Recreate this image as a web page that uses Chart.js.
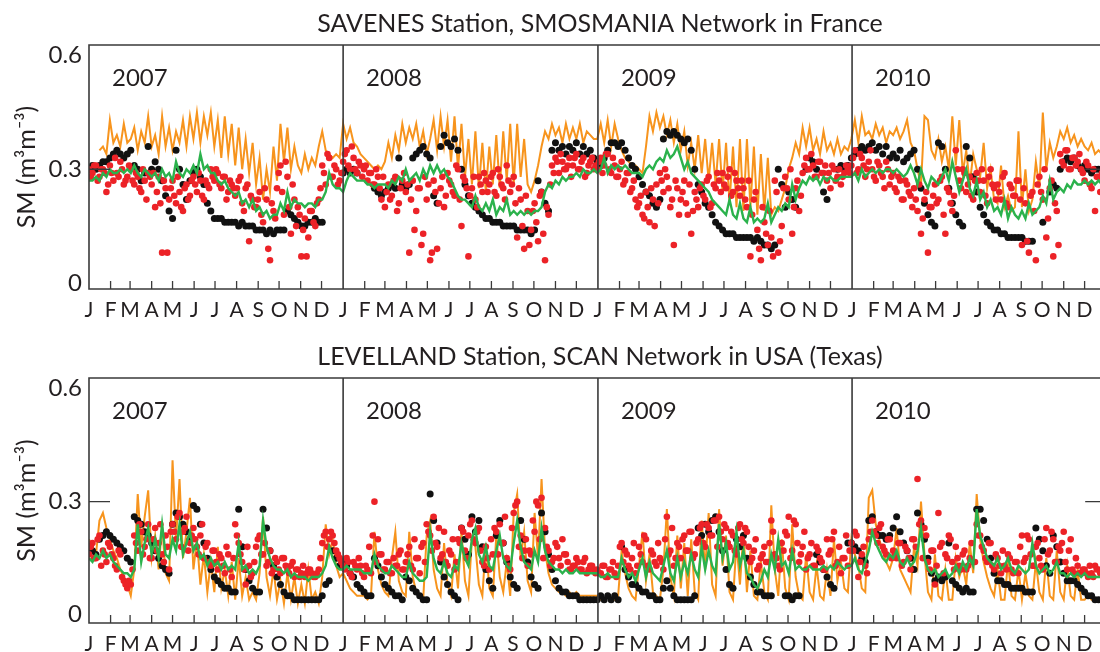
<!DOCTYPE html>
<html><head><meta charset="utf-8">
<script src="https://cdn.jsdelivr.net/npm/chart.js@4.4.0/dist/chart.umd.min.js"></script>
<style>
html,body{margin:0;padding:0;background:#fff;overflow:hidden;width:1100px;height:652px}
#wrap{position:relative;width:1100px;height:652px;overflow:hidden}
canvas{position:absolute;left:0}
</style></head><body>
<div id="wrap">
<canvas id="c1" width="1200" height="326" style="top:0"></canvas>
<canvas id="c2" width="1200" height="326" style="top:326px"></canvas>
</div>
<script>
const YEARS = [2007, 2008, 2009, 2010];
const MONTH_LABELS = ['J','F','M','A','M','J','J','A','S','O','N','D'];
const TICK_VALUES = [0, 0.3, 0.6];
const STEP_DAYS = 5;
const TITLES = ['SAVENES Station, SMOSMANIA Network in France', 'LEVELLAND Station, SCAN Network in USA (Texas)'];
const Y_TITLE = 'SM (m³m⁻³)';

// ---------- SAVENES (top) ----------
const topOrange = [
null,null,null,0.35,0.36,0.34, 0.43,0.37,0.39,0.36,0.42,0.37, 0.38,0.41,0.35,0.40,0.37,0.44, 0.36,0.39,0.34,0.44,0.36,0.41, 0.35,0.40,0.37,0.43,0.36,0.44, 0.38,0.45,0.37,0.44,0.39,0.45, 0.36,0.43,0.33,0.44,0.34,0.42, 0.31,0.41,0.30,0.38,0.29,0.37, 0.26,0.33,0.22,0.30,0.24,0.36, 0.27,0.42,0.32,0.41,0.30,0.36, 0.31,0.29,0.34,0.30,0.33,0.31, 0.36,0.40,0.35,0.34,0.33,0.34,0.33,
0.42,0.38,0.41,0.37,0.36,0.34, 0.33,0.32,0.31,0.30,0.31,0.30, 0.32,0.37,0.33,0.39,0.35,0.42, 0.37,0.41,0.38,0.42,0.36,0.40, 0.34,0.38,0.43,0.35,0.44,0.36, 0.43,0.32,0.44,0.30,0.42,0.28, 0.38,0.26,0.40,0.25,0.37,0.24, 0.36,0.26,0.39,0.25,0.40,0.27, 0.42,0.26,0.42,0.28,0.38,0.26, 0.24,0.27,0.31,0.36,0.40,0.38, 0.42,0.39,0.41,0.37,0.42,0.38, 0.41,0.38,0.42,0.37,0.40,0.39,0.38,
0.38,0.42,0.37,0.43,0.36,0.42, 0.38,0.35,0.33,0.32,0.31,0.31, 0.30,0.29,0.36,0.44,0.40,0.45, 0.41,0.44,0.39,0.43,0.37,0.42, 0.35,0.40,0.31,0.37,0.30,0.39, 0.29,0.38,0.27,0.37,0.26,0.38, 0.24,0.37,0.21,0.36,0.20,0.38, 0.19,0.38,0.20,0.36,0.18,0.34, 0.19,0.33,0.18,0.20,0.19,0.22, 0.25,0.30,0.33,0.37,0.34,0.41, 0.36,0.41,0.35,0.38,0.34,0.40, 0.35,0.37,0.34,0.38,0.34,0.36,0.35,
0.38,0.43,0.37,0.44,0.39,0.40, 0.38,0.42,0.39,0.41,0.37,0.40, 0.39,0.41,0.38,0.40,0.43,0.37, 0.35,0.30,0.26,0.44,0.43,0.35, 0.33,0.38,0.32,0.36,0.30,0.44, 0.31,0.43,0.29,0.35,0.26,0.34, 0.30,0.28,0.37,0.25,0.30,0.22, 0.21,0.31,0.20,0.23,0.19,0.20, 0.40,0.20,0.30,0.19,0.22,0.32, 0.25,0.45,0.30,0.37,0.33,0.36, 0.40,0.38,0.41,0.37,0.39,0.36, 0.38,0.36,0.35,0.37,0.34,0.35,0.34
];
const topGreen = [
0.27,0.27,0.28,0.27,0.29,0.28, 0.30,0.29,0.29,0.30,0.29,0.30, 0.29,0.31,0.29,0.28,0.30,0.29, 0.28,0.29,0.27,0.30,0.28,0.29, 0.27,0.32,0.29,0.28,0.30,0.29, 0.31,0.29,0.34,0.30,0.31,0.29, 0.29,0.27,0.26,0.27,0.25,0.24, 0.23,0.24,0.21,0.22,0.20,0.22, 0.19,0.20,0.18,0.19,0.17,0.18, 0.18,0.21,0.19,0.24,0.20,0.22, 0.21,0.21,0.20,0.21,0.21,0.20, 0.22,0.22,0.24,0.29,0.26,0.25,0.25,
0.24,0.27,0.29,0.28,0.27,0.27, 0.27,0.26,0.26,0.25,0.26,0.26, 0.26,0.25,0.27,0.26,0.28,0.27, 0.30,0.27,0.28,0.29,0.27,0.30, 0.28,0.31,0.29,0.31,0.29,0.30, 0.28,0.27,0.25,0.23,0.22,0.22, 0.21,0.20,0.23,0.20,0.19,0.21, 0.19,0.22,0.18,0.20,0.19,0.22, 0.18,0.19,0.18,0.19,0.18,0.19, 0.18,0.19,0.19,0.20,0.24,0.26, 0.25,0.27,0.26,0.28,0.27,0.28, 0.28,0.29,0.28,0.30,0.29,0.29,0.30,
0.29,0.30,0.33,0.29,0.31,0.30, 0.31,0.30,0.31,0.30,0.29,0.29, 0.29,0.28,0.30,0.31,0.30,0.32, 0.33,0.32,0.35,0.33,0.34,0.36, 0.33,0.30,0.32,0.29,0.28,0.27, 0.26,0.25,0.24,0.22,0.21,0.20, 0.19,0.18,0.22,0.18,0.17,0.21, 0.17,0.16,0.20,0.16,0.17,0.16, 0.17,0.21,0.16,0.18,0.20,0.19, 0.21,0.20,0.26,0.22,0.25,0.27, 0.26,0.28,0.27,0.28,0.26,0.28, 0.27,0.28,0.27,0.27,0.28,0.28,0.28,
0.28,0.29,0.27,0.30,0.28,0.29, 0.30,0.29,0.30,0.29,0.30,0.30, 0.29,0.30,0.29,0.28,0.29,0.31, 0.29,0.26,0.30,0.27,0.25,0.28, 0.27,0.26,0.28,0.30,0.27,0.32, 0.28,0.24,0.27,0.30,0.25,0.23, 0.27,0.22,0.24,0.20,0.22,0.19, 0.20,0.18,0.22,0.17,0.20,0.18, 0.17,0.19,0.17,0.21,0.18,0.19, 0.20,0.23,0.21,0.27,0.22,0.24, 0.25,0.24,0.26,0.25,0.27,0.26, 0.26,0.27,0.26,0.27,0.26,0.27,0.26
];
const topBlack = [
0.30,0.31,0.30,0.31,0.32,0.32,0.33,0.34,0.35,0.34,0.33,0.34, 0.35,0.31,0.30,0.27,0.29,0.36, 0.30,0.32,0.30,0.27,0.23,0.19, 0.17,0.35,0.30,0.26,0.22,0.27, 0.29,0.30,0.28,0.26,0.21,0.19, 0.17,0.17,0.17,0.16,0.16,0.16, 0.16,0.15,0.16,0.15,0.15,0.15, 0.14,0.14,0.14,0.13,0.14,0.13, 0.14,0.14,0.14,0.19,0.18,0.17, 0.16,0.15,0.15,0.16,0.16,0.17, 0.16,0.16,null,null,null,null,null,
0.29,0.30,0.29,0.30,0.29,null,null,null,null, 0.25,0.24,0.23,0.24,0.25,0.26,0.25,0.33,0.26, 0.25,0.26,0.33,0.34,0.35,0.36,0.34,0.33,0.23, 0.21,0.36,0.39,0.37,0.36,0.38,0.35,0.30,0.26, 0.23,0.21,0.20,0.19,0.18,0.17,0.17,0.16,0.16, 0.16,0.15,0.15,0.15,0.15,0.14,0.14,0.14,0.14, 0.13,0.14,0.27,0.24,0.21,0.19,0.35,0.37,0.35, 0.36,0.34,0.36,0.35,0.37,0.34,0.36,0.34,0.35,0.33,
0.32,0.31,0.33,0.35,0.37,0.37,0.36,0.37,0.35, 0.33,0.31,0.30,0.28,0.26,0.24,0.23,0.21,0.20, 0.22,0.38,0.40,0.39,0.40,0.39,0.38,0.37,0.38, 0.35,0.30,0.26,0.24,0.21,0.20,0.18,0.16,0.15, 0.14,0.13,0.13,0.13,0.12,0.12,0.12,0.12,0.12, 0.11,0.12,0.11,0.10,0.10,0.09,0.10,0.30,0.26, 0.20,0.24,0.22,0.20,null,null,0.30,0.33,0.32, 0.30,null,0.24,0.22,null,null,0.30,0.31,0.30,0.31,
0.33,0.34,0.35,0.36,0.35,0.36,0.37,0.35,0.36,0.34,0.36,0.33, 0.34,0.33,0.35,0.32,0.33,0.34, 0.35,0.30,0.25,0.21,0.18,0.16,0.15, 0.37,0.36,0.30,0.25,0.21,0.18,0.16,0.15, 0.36,0.33,0.28,0.24,0.20,0.18,0.16,0.15,0.14, 0.14,0.13,0.13,0.12,0.12,0.12,0.12,0.12,0.11,0.11,0.11, null,null,0.16,null,0.24,0.26,0.25, 0.30,0.32,0.33,0.32,0.33,0.31,0.30,0.31,0.30,0.29,0.30,0.30,0.30
];
const topRed = [
0.30,0.29,0.31,0.28,0.30,0.24, 0.31,0.27,0.29,0.32,0.26,0.28, 0.30,0.26,0.28,0.24,0.27,0.29, 0.26,0.20,0.28,0.08,0.25,0.22, 0.27,0.21,0.24,0.19,0.26,0.23, 0.28,0.24,0.27,0.22,0.26,0.30, 0.27,0.29,0.25,0.28,0.24,0.26, 0.23,0.27,0.21,0.25,0.11,0.22, 0.20,0.24,0.16,0.22,0.06,0.19, 0.25,0.31,0.18,0.28,0.13,0.22, 0.20,0.07,0.17,0.12,0.19,0.15, 0.22,0.31,0.26,0.33,0.28,0.30,0.27,
0.32,0.35,0.30,0.33,0.29,0.31, 0.30,0.27,0.29,0.26,0.28,0.22, 0.20,0.26,0.23,0.28,0.21,0.27, 0.24,0.08,0.27,0.19,0.25,0.13, 0.22,0.06,0.27,0.09,0.25,0.20, 0.29,0.26,0.23,0.30,0.15,0.27, 0.07,0.25,0.22,0.28,0.24,0.27, 0.26,0.29,0.23,0.28,0.25,0.31, 0.24,0.28,0.12,0.22,0.09,0.19, 0.14,0.21,0.11,0.24,0.06,0.18, 0.31,0.33,0.29,0.32,0.30,0.33, 0.31,0.34,0.30,0.33,0.29,0.32,0.30,
0.30,0.33,0.31,0.34,0.29,0.31, 0.28,0.32,0.27,0.29,0.25,0.22, 0.21,0.18,0.24,0.16,0.22,0.26, 0.29,0.24,0.28,0.20,0.10,0.25, 0.22,0.27,0.18,0.13,0.24,0.20, 0.26,0.22,0.28,0.21,0.25,0.27, 0.29,0.25,0.30,0.24,0.27,0.23, 0.25,0.20,0.07,0.22,0.14,0.06, 0.16,0.10,0.12,0.27,0.08,0.15, 0.28,0.22,0.13,0.25,0.19,0.29, 0.33,0.30,0.31,0.28,0.32,0.29, 0.27,0.25,0.30,0.28,0.26,0.29,0.30,
0.31,0.35,0.30,0.33,0.28,0.32, 0.30,0.27,0.31,0.28,0.32,0.26, 0.29,0.24,0.27,0.22,0.26,0.23, 0.25,0.19,0.13,0.22,0.08,0.20, 0.26,0.22,0.28,0.13,0.24,0.19, 0.35,0.27,0.30,0.24,0.28,0.22, 0.29,0.24,0.27,0.21,0.30,0.25, 0.26,0.22,0.29,0.20,0.25,0.23, 0.27,0.10,0.21,0.08,0.24,0.06, 0.28,0.22,0.12,0.25,0.07,0.19, 0.34,0.31,0.35,0.30,0.33,0.32, 0.30,0.27,0.31,0.25,0.19,0.28,0.29
];
// second retrieval of each 5-day step (half a step later)
const topRedMid = [
0.28,0.31,0.27,0.30,0.29,0.26, 0.29,0.33,0.28,0.30,0.27,0.31, 0.27,0.29,0.25,0.30,0.22,0.28, 0.29,0.24,0.21,0.27,0.08,0.25, 0.23,0.28,0.20,0.25,0.22,0.27, 0.26,0.29,0.23,0.27,0.25,0.28, 0.30,0.26,0.28,0.22,0.27,0.25, 0.25,0.28,0.19,0.26,0.23,0.20, 0.22,0.18,0.25,0.09,0.21,0.17, 0.29,0.24,0.32,0.20,0.26,0.15, 0.18,0.14,0.07,0.19,0.16,0.21, 0.25,0.29,0.34,0.28,0.31,0.26,0.29,
0.34,0.31,0.36,0.30,0.32,0.28, 0.31,0.29,0.26,0.30,0.25,0.28, 0.24,0.22,0.27,0.19,0.25,0.29, 0.26,0.22,0.14,0.25,0.10,0.28, 0.26,0.08,0.24,0.21,0.28,0.23, 0.27,0.24,0.31,0.22,0.28,0.25, 0.23,0.28,0.20,0.26,0.29,0.24, 0.28,0.24,0.30,0.26,0.22,0.27, 0.26,0.21,0.25,0.15,0.23,0.10, 0.19,0.16,0.23,0.13,0.20,0.26, 0.29,0.32,0.34,0.30,0.31,0.28, 0.33,0.30,0.32,0.28,0.31,0.33,0.31,
0.32,0.29,0.34,0.30,0.33,0.28, 0.30,0.26,0.29,0.24,0.27,0.20, 0.23,0.17,0.20,0.25,0.15,0.21, 0.27,0.30,0.25,0.22,0.27,0.18, 0.24,0.21,0.26,0.19,0.22,0.25, 0.23,0.27,0.20,0.26,0.29,0.24, 0.26,0.28,0.23,0.29,0.25,0.27, 0.22,0.27,0.18,0.24,0.09,0.20, 0.13,0.19,0.07,0.24,0.11,0.25, 0.25,0.30,0.20,0.27,0.23,0.31, 0.30,0.34,0.28,0.32,0.29,0.31, 0.29,0.31,0.27,0.30,0.28,0.31,0.29,
0.33,0.29,0.34,0.31,0.30,0.35, 0.28,0.32,0.29,0.25,0.30,0.28, 0.25,0.28,0.22,0.27,0.24,0.20, 0.22,0.26,0.17,0.24,0.20,0.23, 0.21,0.27,0.18,0.25,0.21,0.23, 0.30,0.25,0.29,0.26,0.23,0.27, 0.27,0.30,0.23,0.28,0.26,0.22, 0.24,0.28,0.21,0.26,0.23,0.27, 0.22,0.25,0.11,0.23,0.19,0.26, 0.24,0.30,0.17,0.27,0.21,0.10, 0.32,0.35,0.30,0.33,0.31,0.34, 0.29,0.32,0.26,0.30,0.28,0.24,0.30
];

// ---------- LEVELLAND (bottom) ----------
const botOrange = [
0.20,0.18,0.16,0.25,0.27,0.23,0.20,0.17,0.15, 0.12,0.10,0.08,0.05,0.12,0.32,0.18,0.26,0.33, 0.15,0.21,0.12,0.24,0.11,0.09,0.41,0.20,0.36, 0.15,0.22,0.31,0.12,0.20,0.08,0.16,0.06,0.14, 0.06,0.18,0.07,0.12,0.05,0.14,0.04,0.15,0.05, 0.10,0.04,0.06,0.04,0.11,0.26,0.10,0.05,0.12, 0.04,0.09,0.03,0.11,0.04,0.10,0.03,0.08,0.03, 0.12,0.04,0.06,0.03,0.10,0.24,0.16,0.20,0.13,0.10,
0.11,0.09,0.07,0.06,0.05,0.05,0.05,0.04,0.05, 0.22,0.12,0.08,0.06,0.05,0.15,0.22,0.09,0.06, 0.05,0.22,0.10,0.06,0.05,0.04,0.21,0.25,0.12, 0.07,0.05,0.19,0.08,0.05,0.16,0.07,0.22,0.09, 0.05,0.20,0.18,0.08,0.05,0.19,0.07,0.05,0.21, 0.10,0.06,0.14,0.05,0.27,0.32,0.15,0.22,0.09, 0.06,0.27,0.15,0.36,0.17,0.11,0.08,0.07,0.06, 0.06,0.05,0.06,0.05,0.06,0.05,0.05,0.05,0.05,0.05,
0.05,0.04,0.04,0.05,0.04,0.04,0.05,0.17,0.11, 0.07,0.05,0.04,0.13,0.22,0.09,0.16,0.06,0.05, 0.04,0.12,0.28,0.10,0.05,0.21,0.07,0.19,0.05, 0.20,0.06,0.04,0.25,0.12,0.27,0.08,0.05,0.28, 0.13,0.21,0.06,0.04,0.19,0.08,0.22,0.06,0.17, 0.05,0.04,0.14,0.06,0.04,0.29,0.12,0.05,0.20, 0.07,0.04,0.24,0.10,0.05,0.04,0.16,0.06,0.04, 0.13,0.05,0.04,0.12,0.05,0.20,0.09,0.14,0.07,0.06,
0.20,0.16,0.13,0.07,0.06,0.31,0.33,0.24,0.20, 0.17,0.14,0.12,0.15,0.23,0.12,0.10,0.08,0.06, 0.18,0.13,0.30,0.16,0.06,0.04,0.16,0.05,0.04, 0.12,0.04,0.04,0.15,0.10,0.13,0.08,0.19,0.11, 0.32,0.20,0.14,0.10,0.07,0.05,0.12,0.04,0.04, 0.14,0.05,0.04,0.12,0.04,0.11,0.05,0.04,0.14, 0.06,0.04,0.15,0.05,0.04,0.17,0.06,0.04,0.13, 0.05,0.04,0.12,0.04,0.04,0.05,0.04,0.04,0.04,0.04
];
const botGreen = [
0.15,0.14,0.16,0.15,0.17,0.15,0.16,0.14,0.13, 0.12,0.11,0.11,0.10,0.12,0.24,0.14,0.19,0.23, 0.16,0.20,0.15,0.24,0.16,0.15,0.20,0.17,0.24, 0.16,0.19,0.22,0.17,0.19,0.15,0.16,0.13,0.15, 0.13,0.14,0.12,0.14,0.12,0.13,0.12,0.19,0.12, 0.13,0.11,0.12,0.11,0.13,0.25,0.18,0.15,0.13, 0.12,0.12,0.11,0.12,0.10,0.11,0.10,0.10,0.10, 0.09,0.10,0.10,0.10,0.11,0.13,0.18,0.15,0.13,0.12,
0.12,0.13,0.12,0.12,0.12,0.12,0.11,0.11,0.11, 0.16,0.13,0.12,0.11,0.11,0.13,0.12,0.11,0.10, 0.10,0.14,0.11,0.10,0.09,0.09,0.10,0.22,0.15, 0.12,0.11,0.14,0.11,0.10,0.13,0.12,0.19,0.15, 0.13,0.20,0.23,0.16,0.14,0.18,0.13,0.12,0.17, 0.21,0.15,0.13,0.12,0.19,0.25,0.18,0.14,0.13, 0.12,0.17,0.14,0.23,0.17,0.14,0.13,0.12,0.12, 0.11,0.12,0.11,0.11,0.12,0.11,0.11,0.11,0.11,0.11,
0.11,0.10,0.10,0.11,0.10,0.10,0.10,0.15,0.12, 0.10,0.11,0.09,0.12,0.15,0.10,0.14,0.11,0.10, 0.09,0.13,0.17,0.11,0.09,0.15,0.10,0.14,0.11, 0.16,0.12,0.10,0.18,0.12,0.17,0.13,0.11,0.24, 0.15,0.19,0.12,0.14,0.22,0.13,0.17,0.11,0.10, 0.08,0.07,0.09,0.12,0.10,0.16,0.12,0.20,0.13, 0.14,0.11,0.17,0.12,0.13,0.12,0.12,0.13,0.12, 0.12,0.12,0.13,0.12,0.13,0.12,0.14,0.13,0.12,0.13,
0.13,0.15,0.12,0.11,0.14,0.17,0.22,0.19,0.17, 0.15,0.14,0.16,0.15,0.17,0.14,0.13,0.15,0.13, 0.14,0.17,0.23,0.15,0.12,0.11,0.12,0.10,0.11, 0.12,0.10,0.11,0.13,0.11,0.14,0.12,0.15,0.13, 0.28,0.21,0.18,0.15,0.14,0.13,0.15,0.12,0.13, 0.15,0.12,0.11,0.13,0.12,0.11,0.12,0.19,0.13, 0.11,0.12,0.13,0.11,0.12,0.14,0.11,0.11,0.10, 0.11,0.10,0.11,0.10,0.11,0.10,0.10,0.10,0.10,0.10
];
const botBlack = [
0.18,0.17,0.16,0.20,0.21,0.22,0.21,0.20,0.19, 0.18,0.17,0.15,0.14,0.26,0.25,0.24,0.22,0.21, 0.19,0.17,0.15,0.13,0.12,0.11,0.24,0.27,0.26, 0.24,0.22,0.20,0.29,0.28,0.24,0.19,0.15,0.12, 0.10,0.09,0.08,0.07,0.07,0.06,0.06,0.28,0.18, 0.12,0.09,0.07,0.06,0.06,0.28,0.23,0.17,0.13, 0.10,0.08,0.06,0.05,0.05,0.04,0.04,0.04,0.04, 0.04,0.04,0.04,0.04,0.05,0.08,0.09,0.17,0.15,0.13,
0.14,0.13,0.11,0.10,0.08,0.07,0.06,0.05,0.05, 0.15,0.13,0.10,0.08,0.07,0.06,0.05,0.05,0.04, 0.10,0.09,0.07,0.06,0.05,0.04,0.04,0.32,0.25, 0.19,0.14,0.10,0.08,0.06,0.05,0.04,0.23,0.20, 0.16,0.26,0.22,0.25,0.18,0.12,0.09,0.07,0.21, 0.25,0.19,0.14,0.10,0.08,0.07,0.25,0.20,0.14, 0.10,0.08,0.07,0.27,0.22,0.16,0.12,0.09,0.07, 0.06,0.06,0.05,0.05,0.05,0.04,0.04,0.04,0.04,0.04,
0.04,0.05,0.04,0.05,0.04,0.05,0.04,0.18,0.12, 0.10,0.08,0.08,0.07,0.06,0.06,0.05,0.05,0.04, 0.04,0.07,0.09,0.07,0.05,0.04,0.04,0.04,0.04, 0.04,0.05,0.23,0.21,0.24,0.22,0.25,0.26,0.22, 0.17,0.12,0.08,0.07,0.20,0.18,0.21,0.15,0.10, 0.08,0.06,0.06,0.05,0.05,0.05,null,null,null, 0.05,0.05,0.04,0.05,0.05,null,null,null,null, 0.16,0.14,0.12,0.10,0.08,0.07,null,null,null,0.19,
0.19,0.18,0.17,0.15,0.14,0.25,0.26,0.22,0.21, 0.21,0.20,0.21,0.23,0.26,0.22,0.19,0.17,0.15, 0.12,0.27,0.24,0.20,0.15,0.11,0.09,0.10,0.09, 0.10,0.19,0.09,0.08,0.07,0.06,0.07,0.06,0.06, 0.28,0.28,0.25,0.20,0.15,0.11,0.09,0.09,0.08, 0.08,0.07,0.07,0.07,0.07,0.06,0.06,0.06,0.23, 0.20,0.17,0.13,0.11,0.21,0.18,0.14,0.11,0.09, 0.09,0.09,0.08,0.07,0.06,0.05,0.05,0.04,0.04,0.04
];
const botRed = [
0.16,0.19,0.15,0.21,0.17,0.14, 0.18,0.15,0.12,0.16,0.09,0.07, 0.08,0.21,0.17,0.22,0.18,0.24, 0.15,0.23,0.19,0.16,0.21,0.12, 0.24,0.20,0.27,0.22,0.26,0.19, 0.23,0.18,0.21,0.15,0.19,0.13, 0.17,0.12,0.15,0.11,0.16,0.10, 0.24,0.19,0.14,0.08,0.13,0.11, 0.18,0.21,0.16,0.13,0.17,0.12, 0.14,0.11,0.15,0.12,0.13,0.10, 0.12,0.11,0.10,0.12,0.11,0.10, 0.12,0.19,0.22,0.20,0.21,0.17,0.15,
0.13,0.15,0.11,0.14,0.12,0.13,0.10,0.12,0.11, 0.30,0.20,0.16,0.12,0.14,0.11,0.13,0.16,0.12, 0.14,0.18,0.12,0.15,0.11,0.19,0.24,0.21,0.26, 0.18,0.15,0.22,0.13,0.16,0.12,0.20,0.23,0.17, 0.21,0.25,0.19,0.23,0.14,0.18,0.12,0.16,0.22, 0.24,0.19,0.15,0.12,0.27,0.30,0.21,0.17,0.13, 0.16,0.22,0.29,0.31,0.23,0.17,0.14,0.19,0.15, 0.20,0.16,0.12,0.13,0.15,0.12,0.14,0.11,0.13,0.12,
0.12,0.11,0.13,0.10,0.12,0.11,0.13,0.19,0.17, 0.13,0.15,0.11,0.18,0.14,0.20,0.12,0.16,0.13, 0.15,0.12,0.26,0.17,0.13,0.19,0.15,0.21,0.17, 0.22,0.16,0.20,0.24,0.18,0.23,0.21,0.25,0.26, 0.20,0.23,0.18,0.21,0.16,0.24,0.19,0.22,0.14, 0.17,0.12,0.15,0.18,0.14,0.25,0.16,0.13,0.19, 0.22,0.26,0.17,0.24,0.14,0.18,0.12,0.16,0.13, 0.18,0.15,0.12,0.20,0.17,0.22,0.14,0.11,0.15,0.13,
0.19,0.22,0.10,0.16,0.13,0.20,0.25,0.21,0.23, 0.18,0.16,0.20,0.17,0.15,0.19,0.14,0.17,0.12, 0.20,0.36,0.25,0.23,0.14,0.17,0.08,0.27,0.19, 0.16,0.21,0.14,0.18,0.13,0.16,0.12,0.15,0.14, 0.24,0.21,0.17,0.14,0.19,0.12,0.15,0.11,0.13, 0.16,0.12,0.14,0.11,0.21,0.15,0.20,0.13,0.18, 0.15,0.12,0.23,0.17,0.20,0.14,0.17,0.22,0.12, 0.20,0.11,0.13,0.11,0.12,0.10,0.11,0.13,0.12,0.11
];
const botRedMid = [
0.18,0.15,0.20,0.13,0.16,0.19, 0.16,0.13,0.17,0.10,0.08,0.09, 0.12,0.19,0.24,0.16,0.20,0.15, 0.20,0.17,0.24,0.14,0.18,0.22, 0.22,0.26,0.18,0.23,0.17,0.21, 0.20,0.16,0.24,0.18,0.14,0.17, 0.14,0.16,0.13,0.18,0.12,0.15, 0.21,0.16,0.12,0.18,0.10,0.14, 0.20,0.16,0.19,0.14,0.11,0.15, 0.12,0.15,0.13,0.11,0.14,0.12, 0.10,0.13,0.11,0.12,0.10,0.11, 0.15,0.21,0.18,0.22,0.19,0.16,0.14,
0.12,0.14,0.10,0.13,0.15,0.11, 0.13,0.18,0.21,0.14,0.16,0.12, 0.14,0.11,0.15,0.13,0.17,0.12, 0.16,0.13,0.20,0.15,0.18,0.14, 0.22,0.17,0.19,0.23,0.16,0.14, 0.17,0.20,0.14,0.19,0.22,0.15, 0.24,0.20,0.22,0.17,0.13,0.15, 0.20,0.23,0.16,0.19,0.26,0.13, 0.23,0.29,0.18,0.15,0.20,0.17, 0.25,0.30,0.20,0.15,0.18,0.13, 0.15,0.18,0.13,0.16,0.14,0.12, 0.13,0.14,0.12,0.15,0.12,0.13,0.11,
0.11,0.13,0.10,0.12,0.14,0.10, 0.18,0.14,0.16,0.12,0.19,0.13, 0.16,0.21,0.13,0.17,0.14,0.19, 0.14,0.20,0.16,0.23,0.15,0.18, 0.20,0.17,0.22,0.15,0.19,0.23, 0.19,0.24,0.21,0.25,0.18,0.22, 0.24,0.19,0.22,0.17,0.23,0.20, 0.23,0.18,0.15,0.20,0.13,0.16, 0.14,0.19,0.22,0.15,0.12,0.17, 0.21,0.15,0.25,0.19,0.16,0.22, 0.15,0.19,0.13,0.17,0.14,0.12, 0.16,0.20,0.13,0.18,0.15,0.21,0.17,
0.17,0.21,0.14,0.18,0.11,0.22, 0.22,0.19,0.24,0.17,0.20,0.15, 0.16,0.19,0.13,0.18,0.15,0.20, 0.18,0.24,0.15,0.21,0.12,0.17, 0.13,0.18,0.11,0.15,0.20,0.12, 0.15,0.12,0.17,0.13,0.19,0.14, 0.21,0.18,0.15,0.19,0.13,0.16, 0.13,0.17,0.12,0.15,0.11,0.14, 0.18,0.14,0.21,0.16,0.13,0.19, 0.13,0.20,0.16,0.22,0.14,0.18, 0.19,0.14,0.17,0.12,0.15,0.11, 0.12,0.11,0.13,0.10,0.12,0.11,0.12
];

// ---------- styling ----------
const FONT = "Lato, 'Open Sans', sans-serif";
const TEXT = '#231f20';
const C_ORANGE = '#f7941d', C_GREEN = '#2bb24c', C_RED = '#ec2227', C_BLACK = '#111111';
const X_MAX = 1590;

const dayOf = (y, m) => Math.round((Date.UTC(y, m, 1) - Date.UTC(YEARS[0], 0, 1)) / 86400000);
const MONTH_STARTS = YEARS.flatMap(y => MONTH_LABELS.map((_, m) => dayOf(y, m)));
const END_DAY = dayOf(YEARS[YEARS.length - 1] + 1, 0);
const toPts = (arr, off = 0) => arr.map((v, i) => ({x: i * STEP_DAYS + off, y: v}));

const framePlugin = {
  id: 'frame',
  afterDatasetsDraw(chart) {
    const {ctx, chartArea: a, scales: {x, y}} = chart;
    const xr = x.getPixelForValue(END_DAY);
    ctx.save();
    ctx.strokeStyle = '#3a3a3a';
    ctx.lineWidth = 1.6;
    ctx.beginPath();
    ctx.rect(a.left, a.top, xr - a.left, a.bottom - a.top);
    YEARS.slice(1).forEach(yr => {
      const px = x.getPixelForValue(dayOf(yr, 0));
      ctx.moveTo(px, a.top); ctx.lineTo(px, a.bottom);
    });
    ctx.stroke();
    ctx.lineWidth = 1.3;
    ctx.beginPath();
    MONTH_STARTS.forEach((d, i) => {
      if (i % 12 === 0) return;
      const px = x.getPixelForValue(d);
      ctx.moveTo(px, a.bottom); ctx.lineTo(px, a.bottom - 8);
    });
    const py = y.getPixelForValue(TICK_VALUES[1]);
    ctx.moveTo(a.left, py); ctx.lineTo(a.left + 21, py);
    ctx.moveTo(xr - 21, py); ctx.lineTo(xr, py);
    ctx.stroke();
    ctx.fillStyle = TEXT;
    ctx.font = '24px ' + FONT;
    ctx.textAlign = 'left';
    ctx.textBaseline = 'alphabetic';
    YEARS.forEach(yr => {
      ctx.fillText(String(yr), x.getPixelForValue(dayOf(yr, 0)) + 23, a.top + 40.5);
    });
    ctx.restore();
  }
};

function makePanel(id, title, titlePad, axisH, yMin, s) {
  return new Chart(document.getElementById(id), {
    type: 'line',
    data: { datasets: [
      {label: 'green', data: toPts(s.green), borderColor: C_GREEN, borderWidth: 2.4, pointRadius: 0, fill: false, spanGaps: false},
      {label: 'red', data: toPts(s.red).concat(toPts(s.redMid, STEP_DAYS / 2)), showLine: false, pointRadius: 3.3, pointBackgroundColor: C_RED, pointBorderWidth: 0},
      {label: 'black', data: toPts(s.black), showLine: false, pointRadius: 3.5, pointBackgroundColor: C_BLACK, pointBorderWidth: 0},
      {label: 'orange', data: toPts(s.orange), borderColor: C_ORANGE, borderWidth: 2, pointRadius: 0, fill: false, spanGaps: false}
    ]},
    options: {
      responsive: false, animation: false, devicePixelRatio: 1,
      layout: {padding: 0},
      plugins: {
        legend: {display: false}, tooltip: {enabled: false},
        title: {display: true, text: title, color: TEXT,
          font: {family: FONT, size: 25, weight: 'normal', lineHeight: 1.2}, padding: titlePad}
      },
      scales: {
        x: {type: 'linear', min: 0, max: X_MAX,
          grid: {display: false, drawTicks: false}, border: {display: false},
          afterBuildTicks: sc => { sc.ticks = MONTH_STARTS.map(v => ({value: v})); },
          afterFit: sc => { sc.height = axisH; },
          ticks: {autoSkip: false, maxRotation: 0, minRotation: 0, padding: 9, color: TEXT,
            font: {family: FONT, size: 21}, callback: (v, i) => MONTH_LABELS[i % 12]}},
        y: {min: yMin, max: 0.628,
          grid: {display: false, drawTicks: false}, border: {display: false},
          afterBuildTicks: sc => { sc.ticks = TICK_VALUES.map(v => ({value: v})); },
          afterFit: sc => { sc.width = 89; },
          ticks: {padding: 7, color: TEXT, font: {family: FONT, size: 24},
            callback: v => (v === 0 ? '0' : v.toFixed(1))},
          title: {display: true, text: Y_TITLE, color: TEXT, font: {family: FONT, size: 25}, padding: {top: 12}}}
      }
    },
    plugins: [framePlugin]
  });
}

makePanel('c1', TITLES[0], {top: 8.5, bottom: 6.5}, 37, -0.016,
  {orange: topOrange, green: topGreen, black: topBlack, red: topRed, redMid: topRedMid});
makePanel('c2', TITLES[1], {top: 16, bottom: 6}, 29, -0.022,
  {orange: botOrange, green: botGreen, black: botBlack, red: botRed, redMid: botRedMid});
</script>
</body></html>
